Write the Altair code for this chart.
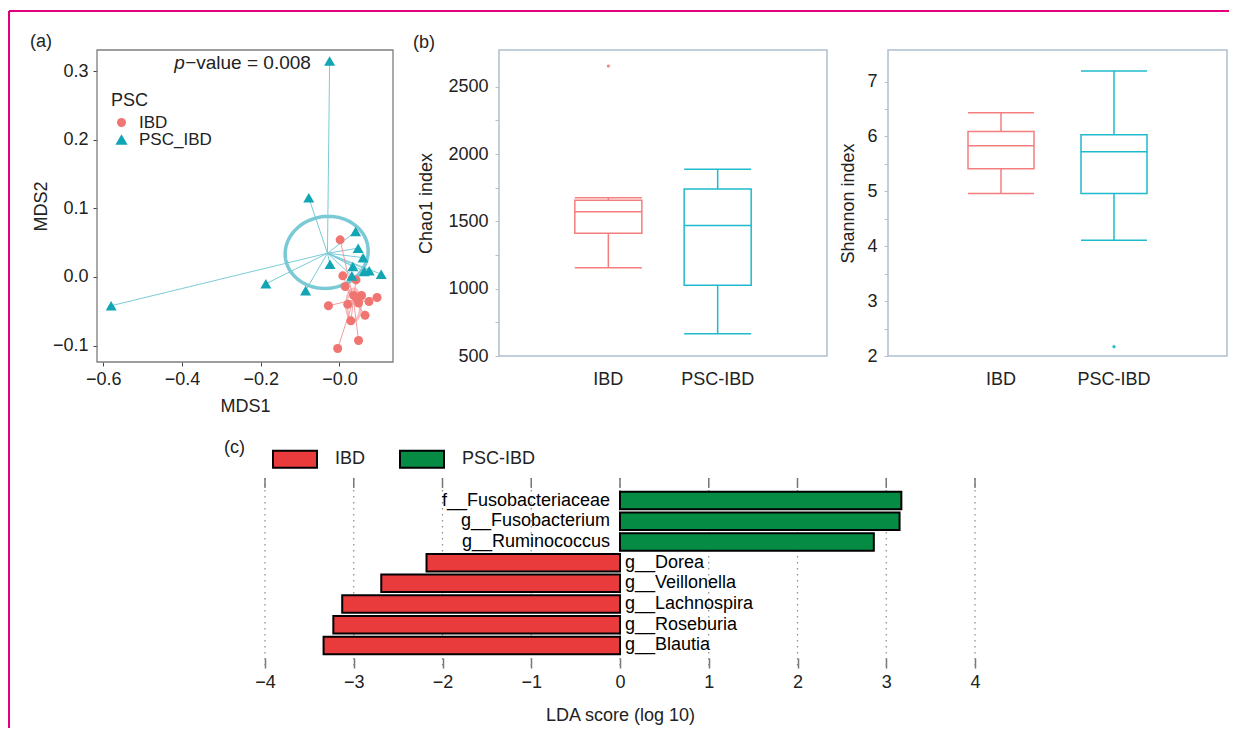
import altair as alt
import numpy as np
import pandas as pd

FONT = "Liberation Sans"
INK = "#222222"

# ---------------- panel (a): PCoA ----------------
groups_a = ["IBD", "PSC_IBD"]
ibd_x = [0.0017, 0.0085, 0.0145, 0.042, 0.036, 0.056, 0.0475, 0.0955, 0.075, -0.028, 0.021, 0.0485, 0.065, 0.029, 0.0485, -0.0045]
ibd_y = [0.054, 0.0015, -0.014, -0.0044, -0.027, -0.027, -0.0335, -0.030, -0.036, -0.042, -0.040, -0.038, -0.056, -0.064, -0.0927, -0.1044]
psc_x = [-0.025, -0.078, 0.041, 0.0475, 0.060, -0.024, 0.034, 0.0755, 0.063, 0.106, 0.0315, -0.187, -0.086, -0.58]
psc_y = [0.3146, 0.1154, 0.066, 0.0418, 0.028, 0.0185, 0.015, 0.009, 0.008, 0.004, 0.0015, -0.010, -0.020, -0.042]
centroid_x = [0.0356, -0.0305]
centroid_y = [-0.0335, 0.0345]
ellipse_cx = [0.036, -0.0325]
ellipse_cy = [-0.0408, 0.0357]
ellipse_a = [0.0178, 0.1057]
ellipse_b = [0.0233, 0.0523]
ellipse_rot = [0.0, 8.0]
pvalue_parts = ["p", "\u2212value = 0.008"]
pvalue_x = [-0.420, -0.392]
pvalue_y = [0.3116, 0.3116]
mds1_ticks = [-0.6, -0.4, -0.2, 0.0]
mds2_ticks = [-0.1, 0.0, 0.1, 0.2, 0.3]

# ---------------- panel (b): alpha diversity ----------------
box_groups = ["IBD", "PSC-IBD"]
chao_lower = [1155, 665]
chao_q1 = [1411, 1025]
chao_median = [1571, 1470]
chao_q3 = [1656, 1740]
chao_upper = [1675, 1888]
chao_out_group = ["IBD"]
chao_out_value = [2654]
chao_ticks = [500, 750, 1000, 1250, 1500, 1750, 2000, 2250, 2500]

shan_lower = [4.96, 4.11]
shan_q1 = [5.41, 4.96]
shan_median = [5.83, 5.72]
shan_q3 = [6.09, 6.03]
shan_upper = [6.43, 7.19]
shan_out_group = ["PSC-IBD"]
shan_out_value = [2.17]
shan_ticks = [2, 2.5, 3, 3.5, 4, 4.5, 5, 5.5, 6, 6.5, 7]

# ---------------- panel (c): LEfSe ----------------
taxa = ["f__Fusobacteriaceae", "g__Fusobacterium", "g__Ruminococcus", "g__Dorea",
        "g__Veillonella", "g__Lachnospira", "g__Roseburia", "g__Blautia"]
lda = [3.17, 3.15, 2.86, -2.18, -2.69, -3.13, -3.23, -3.34]
enriched = ["PSC-IBD", "PSC-IBD", "PSC-IBD", "IBD", "IBD", "IBD", "IBD", "IBD"]
lda_groups = ["IBD", "PSC-IBD"]
lda_ticks = [-4, -3, -2, -1, 0, 1, 2, 3, 4]

dummy = pd.DataFrame({"k": [0]})

# =============== build panel (a) ===============
A_W, A_FRAME_W, A_H = 341, 296, 312
XD = [-0.616, 0.136]
YD = [-0.124, 0.3306]
X_PX = A_FRAME_W / (XD[1] - XD[0])
Y_PX = A_H / (YD[1] - YD[0])

pts = pd.DataFrame({
    "group": ["IBD"] * len(ibd_x) + ["PSC_IBD"] * len(psc_x),
    "x": ibd_x + psc_x,
    "y": ibd_y + psc_y,
})
cmap = {g: (cx, cy) for g, cx, cy in zip(groups_a, centroid_x, centroid_y)}
pts["cx"] = [cmap[g][0] for g in pts["group"]]
pts["cy"] = [cmap[g][1] for g in pts["group"]]

rows = []
t = np.linspace(0, 2 * np.pi, 121)
for g, cx, cy, a, b, rot in zip(groups_a, ellipse_cx, ellipse_cy, ellipse_a, ellipse_b, ellipse_rot):
    phi = np.radians(rot)
    ux = a * np.cos(t) * X_PX
    uy = b * np.sin(t) * Y_PX
    X = ux * np.cos(phi) - uy * np.sin(phi)
    Y = ux * np.sin(phi) + uy * np.cos(phi)
    for i, (xx, yy) in enumerate(zip(cx + X / X_PX, cy + Y / Y_PX)):
        rows.append({"group": g, "i": i, "x": float(xx), "y": float(yy)})
ell_df = pd.DataFrame(rows)

pv_df = pd.DataFrame({"part": pvalue_parts, "x": pvalue_x, "y": pvalue_y})

xa = alt.Scale(domain=XD, range=[0, A_FRAME_W], nice=False, zero=False)
ya = alt.Scale(domain=YD, nice=False, zero=False)
axis_common = dict(grid=False, domain=False, labelFontSize=18, labelColor=INK,
                   titleFontSize=18, titleFontWeight="normal", titleColor=INK,
                   tickColor="#444444", tickSize=4, labelFlush=False)
xa_axis = alt.Axis(values=mds1_ticks,
                   labelExpr="datum.value == 0 ? '\u22120.0' : format(datum.value, '.1f')",
                   title="MDS1", labelPadding=4, titlePadding=9, **axis_common)
ya_axis = alt.Axis(values=mds2_ticks, format=".1f", title="MDS2",
                   labelPadding=5, titlePadding=2, **axis_common)


def ax(f):
    return alt.X(f, type="quantitative", scale=xa, axis=xa_axis)


def ay(f):
    return alt.Y(f, type="quantitative", scale=ya, axis=ya_axis)


PT_RED = "#F07470"
PT_TEAL = "#12A5B3"

ell_psc = alt.Chart(ell_df).transform_filter("datum.group == 'PSC_IBD'").mark_line(
    color="#6CC4D1", strokeWidth=3.5, opacity=0.9).encode(x=ax("x"), y=ay("y"), order="i:Q")
ell_ibd = alt.Chart(ell_df).transform_filter("datum.group == 'IBD'").mark_line(
    color="#F3A3A3", strokeWidth=3, opacity=0.7).encode(x=ax("x"), y=ay("y"), order="i:Q")
spokes_psc = alt.Chart(pts).transform_filter("datum.group == 'PSC_IBD'").mark_rule(
    color="#7ACBD6", strokeWidth=1).encode(x=ax("cx"), y=ay("cy"), x2=alt.X2("x"), y2=alt.Y2("y"))
spokes_ibd = alt.Chart(pts).transform_filter("datum.group == 'IBD'").mark_rule(
    color="#F08C8C", strokeWidth=1, opacity=0.85).encode(x=ax("cx"), y=ay("cy"), x2=alt.X2("x"), y2=alt.Y2("y"))

legend_ibd = alt.Legend(title="PSC", values=["IBD"], orient="none", legendX=14, legendY=42,
                        direction="vertical", titleFontSize=18, titleFontWeight="normal",
                        titleColor=INK, labelFontSize=17, labelColor=INK, symbolType="circle",
                        symbolSize=150, titlePadding=4, padding=0, labelOffset=9, symbolOffset=2,
                        symbolOpacity=1, symbolStrokeWidth=0)
legend_psc = alt.Legend(title=None, values=["PSC_IBD"], orient="none", legendX=14, legendY=81,
                        direction="vertical", labelFontSize=17, labelColor=INK,
                        symbolSize=150, padding=0, labelOffset=9, symbolOffset=2, symbolOpacity=1,
                        symbolFillColor=PT_TEAL, symbolStrokeWidth=0)
points = alt.Chart(pts).mark_point(filled=True, opacity=1).encode(
    x=ax("x"), y=ay("y"),
    color=alt.Color("group:N", scale=alt.Scale(domain=groups_a, range=[PT_RED, PT_TEAL]), legend=legend_ibd),
    shape=alt.Shape("group:N", scale=alt.Scale(domain=groups_a[::-1], range=["triangle-up", "circle"]),
                    legend=legend_psc),
    size=alt.Size("group:N", scale=alt.Scale(domain=groups_a, range=[81, 121]), legend=None),
)
pv_p = alt.Chart(pv_df).transform_filter("datum.part == 'p'").mark_text(
    align="left", baseline="middle", fontSize=19, fontStyle="italic", color=INK).encode(
    x=ax("x"), y=ay("y"), text="part:N")
pv_rest = alt.Chart(pv_df).transform_filter("datum.part != 'p'").mark_text(
    align="left", baseline="middle", fontSize=19, color=INK).encode(
    x=ax("x"), y=ay("y"), text="part:N")
frame_a = alt.Chart(dummy).mark_rect(fill="transparent", stroke="#7d7d7d", strokeWidth=1.3).encode(
    x=alt.value(0), x2=alt.value(A_FRAME_W), y=alt.value(0), y2=alt.value(A_H))
label_a = alt.Chart(dummy).mark_text(text="(a)", align="left", baseline="alphabetic",
                                     fontSize=18, color=INK).encode(x=alt.value(-67), y=alt.value(-3))
border_top = alt.Chart(dummy).mark_rule(color="#E2007A", strokeWidth=2).encode(
    x=alt.value(-88), x2=alt.value(1132), y=alt.value(-39))
border_left = alt.Chart(dummy).mark_rule(color="#E2007A", strokeWidth=2).encode(
    x=alt.value(-88), y=alt.value(-39), y2=alt.value(678))

panel_a = alt.layer(ell_psc, ell_ibd, spokes_psc, spokes_ibd, points, pv_p, pv_rest,
                    frame_a, label_a, border_top, border_left).properties(
    width=A_W, height=A_H, view=alt.ViewBackground(strokeWidth=0))

# =============== build panel (b) ===============
BOX_RED = "#F47E7E"
BOX_TEAL = "#1FBACB"


def box_panel(lower, q1, med, q3, upper, out_g, out_v, domain, tick_vals, major, title,
              width, height, pad_in, pad_out, title_pad, label=None):
    df = pd.DataFrame({"group": box_groups, "lower": lower, "q1": q1, "median": med,
                       "q3": q3, "upper": upper})
    odf = pd.DataFrame({"group": out_g, "v": out_v})
    xs = alt.Scale(domain=box_groups, paddingInner=pad_in, paddingOuter=pad_out)
    ys = alt.Scale(domain=domain, nice=False, zero=False)
    col = alt.Scale(domain=box_groups, range=[BOX_RED, BOX_TEAL])
    xax = alt.Axis(title=None, domain=False, ticks=False, labelPadding=14, labelAngle=0,
                   labelFontSize=18, labelColor=INK, grid=False)
    fmt = "'d'"
    yax = alt.Axis(values=tick_vals,
                   labelExpr=f"datum.value % {major} == 0 ? format(datum.value, {fmt}) : ''",
                   title=title, grid=False, domain=False, tickColor="#B3C1CE", tickSize=4,
                   labelPadding=7, labelFontSize=18, labelColor=INK, titleFontSize=18,
                   titleFontWeight="normal", titleColor=INK, titlePadding=title_pad,
                   labelFlush=False)
    band = width / (2 - pad_in + 2 * pad_out) * (1 - pad_in)
    X = alt.X("group:N", scale=xs, axis=xax, sort=box_groups)

    def Yq(f):
        return alt.Y(f, type="quantitative", scale=ys, axis=yax)

    C = alt.Color("group:N", scale=col, legend=None)
    base = alt.Chart(df)
    whisk = base.mark_rule(strokeWidth=1.5).encode(x=X, y=Yq("lower"), y2=alt.Y2("upper"), color=C)
    box = base.mark_bar(fill="white", strokeWidth=1.5).encode(
        x=X, y=Yq("q1"), y2=alt.Y2("q3"), stroke=alt.Stroke("group:N", scale=col, legend=None))
    medt = base.mark_tick(thickness=1.5, size=band, opacity=1).encode(x=X, y=Yq("median"), color=C)
    caplo = base.mark_tick(thickness=1.5, size=band, opacity=1).encode(x=X, y=Yq("lower"), color=C)
    caphi = base.mark_tick(thickness=1.5, size=band, opacity=1).encode(x=X, y=Yq("upper"), color=C)
    outl = alt.Chart(odf).mark_circle(size=10, opacity=1).encode(x=X, y=Yq("v"), color=C)
    layers = [whisk, box, medt, caplo, caphi, outl]
    if label:
        layers.append(alt.Chart(dummy).mark_text(text=label, align="left", baseline="alphabetic",
                                                 fontSize=18, color=INK).encode(
            x=alt.value(-86), y=alt.value(-2)))
    return alt.layer(*layers).properties(
        width=width, height=height,
        view=alt.ViewBackground(stroke="#AFC0CF", strokeWidth=1.5))


panel_chao = box_panel(chao_lower, chao_q1, chao_median, chao_q3, chao_upper,
                       chao_out_group, chao_out_value, [500, 2773], chao_ticks, 500,
                       "Chao1 index", 328, 306, 0.387, 0.6935, 12, label="(b)")
panel_shan = box_panel(shan_lower, shan_q1, shan_median, shan_q3, shan_upper,
                       shan_out_group, shan_out_value, [2, 7.574], shan_ticks, 1,
                       "Shannon index", 339, 306, 0.416, 0.708, 9)

# =============== build panel (c) ===============
C_W, C_H = A_W, 190
lda_df = pd.DataFrame({"taxon": taxa, "lda": lda, "enriched": enriched})
ticks_df = pd.DataFrame({"t": lda_ticks})
xc = alt.Scale(domain=[-4, 4], range=[168, 878], nice=False, zero=False)
yc = alt.Scale(domain=taxa, paddingInner=0.155, paddingOuter=0.667)

grid = alt.Chart(ticks_df).mark_rule(color="#8a8a8a", strokeWidth=1.2, strokeDash=[1.5, 4.5]).encode(
    x=alt.X("t:Q", scale=xc, axis=alt.Axis(
        orient="bottom", values=lda_ticks, format="d", domain=False, tickSize=10, offset=-10,
        tickColor="#777777", tickWidth=1.5, labelPadding=5, labelFontSize=18, labelColor=INK,
        title="LDA score (log 10)", titleFontSize=18, titleFontWeight="normal", titleColor=INK,
        titlePadding=15, grid=False, labelFlush=False)))
top_ticks = alt.Chart(ticks_df).mark_rule(color="#777777", strokeWidth=1.5).encode(
    x=alt.X("t:Q", scale=xc), y=alt.value(0), y2=alt.value(10))

legend_c = alt.Legend(title=None, orient="none", legendX=175, legendY=-42, direction="horizontal",
                      columns=2, symbolType="M-1,-0.39H1V0.39H-1Z", symbolSize=1936,
                      symbolStrokeColor="black", symbolStrokeWidth=2, symbolOpacity=1,
                      labelFontSize=18, labelColor=INK, labelOffset=17, columnPadding=30, padding=0)
bars = alt.Chart(lda_df).mark_bar(stroke="black", strokeWidth=2, opacity=1).encode(
    x=alt.X("lda:Q", scale=xc), x2=alt.datum(0),
    y=alt.Y("taxon:N", scale=yc, axis=None, sort=taxa),
    color=alt.Color("enriched:N", scale=alt.Scale(domain=lda_groups, range=["#E93B3C", "#068B45"]),
                    legend=legend_c))
lab_pos = alt.Chart(lda_df).transform_calculate(zero="0").transform_filter("datum.lda > 0").mark_text(
    align="right", baseline="middle", dx=-10, fontSize=18, color="black").encode(
    x=alt.X("zero:Q", scale=xc), y=alt.Y("taxon:N", scale=yc, axis=None, sort=taxa),
    text="taxon:N")
lab_neg = alt.Chart(lda_df).transform_calculate(zero="0").transform_filter("datum.lda < 0").mark_text(
    align="left", baseline="middle", dx=5, fontSize=18, color="black").encode(
    x=alt.X("zero:Q", scale=xc), y=alt.Y("taxon:N", scale=yc, axis=None, sort=taxa),
    text="taxon:N")
label_c = alt.Chart(dummy).mark_text(text="(c)", align="left", baseline="alphabetic",
                                     fontSize=18, color=INK).encode(x=alt.value(127), y=alt.value(-25))

panel_c = alt.layer(grid, top_ticks, bars, lab_pos, lab_neg, label_c).properties(
    width=C_W, height=C_H, view=alt.ViewBackground(strokeWidth=0))

chart = alt.concat(panel_a, panel_chao, panel_shan, panel_c, columns=3,
                   spacing={"row": 116, "column": 61}, bounds="flush").resolve_scale(
    color="independent", shape="independent", stroke="independent", size="independent"
).properties(
    padding={"left": 0, "top": 2, "right": 0, "bottom": 0}
).configure(font=FONT).configure_view(strokeWidth=0).configure_axis(grid=False, labelFlush=False)

chart.save("out.html", embed_options={"renderer": "svg", "actions": False})
